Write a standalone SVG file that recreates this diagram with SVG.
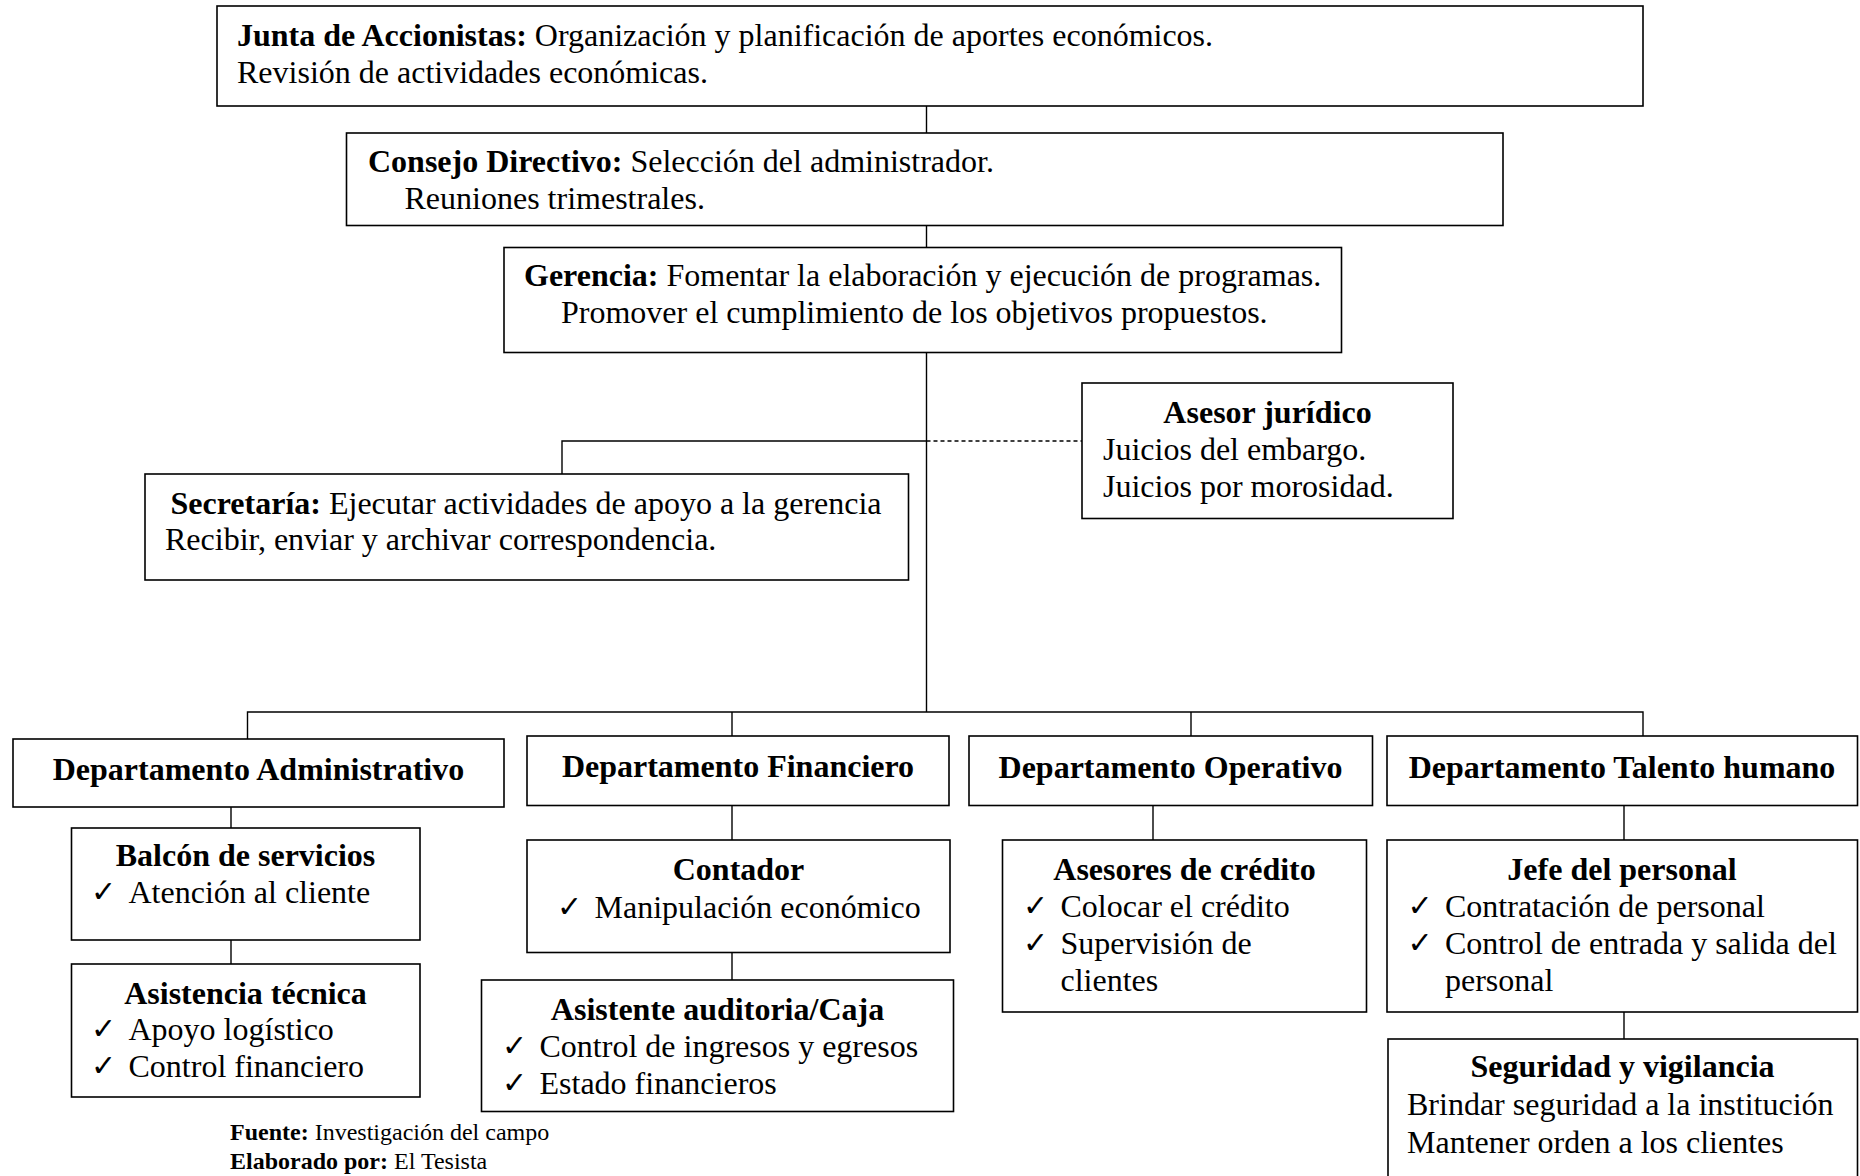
<svg xmlns="http://www.w3.org/2000/svg" width="1860" height="1176" viewBox="0 0 1860 1176">
  <style>
    .box { fill: #ffffff; stroke: #000000; stroke-width: 1.6; }
    .ln { fill: none; stroke: #000000; stroke-width: 1.4; }
    .dash { fill: none; stroke: #000000; stroke-width: 1.4; stroke-dasharray: 4 3; }
    text { font-family: "Liberation Serif", "Times New Roman", serif; font-size: 32px; fill: #000000; }
    .b { font-weight: bold; }
    .c { text-anchor: middle; }
    .ck { font-family: "DejaVu Sans", sans-serif; font-size: 30px; }
    .note { font-size: 24px; }
  </style>
  <rect width="1860" height="1176" fill="#ffffff"/>

  <!-- connectors -->
  <g id="connectors">
    <path class="ln" d="M926.5 106 V133"/>
    <path class="ln" d="M926.5 225.5 V247.5"/>
    <path class="ln" d="M926.5 352.5 V712"/>
    <path class="ln" d="M926.5 441 H562 V474"/>
    <path class="dash" d="M926.5 441 H1082"/>
    <path class="ln" d="M247.5 739 V712 H1643 V736"/>
    <path class="ln" d="M732 712 V736"/>
    <path class="ln" d="M1191 712 V736"/>
    <path class="ln" d="M231 807 V828"/>
    <path class="ln" d="M231 940 V964"/>
    <path class="ln" d="M732 805.5 V840"/>
    <path class="ln" d="M732 952.5 V980"/>
    <path class="ln" d="M1153 805.5 V840"/>
    <path class="ln" d="M1624 805.5 V840"/>
    <path class="ln" d="M1624 1012 V1039"/>
  </g>

  <g id="junta">
    <rect class="box" x="217" y="6" width="1426" height="100"/>
    <text x="237" y="46"><tspan class="b">Junta de Accionistas:</tspan> Organización y planificación de aportes económicos.</text>
    <text x="237" y="83">Revisión de actividades económicas.</text>
  </g>

  <g id="consejo">
    <rect class="box" x="346.5" y="133" width="1156.5" height="92.5"/>
    <text x="368" y="172"><tspan class="b">Consejo Directivo:</tspan> Selección del administrador.</text>
    <text x="404.5" y="209">Reuniones trimestrales.</text>
  </g>

  <g id="gerencia">
    <rect class="box" x="504" y="247.5" width="837.5" height="105"/>
    <text x="524" y="286"><tspan class="b">Gerencia:</tspan> Fomentar la elaboración y ejecución de programas.</text>
    <text x="561" y="323">Promover el cumplimiento de los objetivos propuestos.</text>
  </g>

  <g id="asesor-juridico">
    <rect class="box" x="1082" y="383" width="371" height="135.5"/>
    <text class="b c" x="1267.5" y="422.5">Asesor jurídico</text>
    <text x="1103" y="459.5">Juicios del embargo.</text>
    <text x="1103" y="496.5">Juicios por morosidad.</text>
  </g>

  <g id="secretaria">
    <rect class="box" x="145" y="474" width="763.5" height="106"/>
    <text x="170.5" y="513.5"><tspan class="b">Secretaría:</tspan> Ejecutar actividades de apoyo a la gerencia</text>
    <text x="165" y="550">Recibir, enviar y archivar correspondencia.</text>
  </g>

  <g id="dep-administrativo">
    <rect class="box" x="13" y="739" width="491" height="68"/>
    <text class="b c" x="258.5" y="780">Departamento Administrativo</text>
  </g>

  <g id="dep-financiero">
    <rect class="box" x="527" y="736" width="422" height="69.5"/>
    <text class="b c" x="738" y="777">Departamento Financiero</text>
  </g>

  <g id="dep-operativo">
    <rect class="box" x="969" y="736" width="403.5" height="69.5"/>
    <text class="b c" x="1170.5" y="778">Departamento Operativo</text>
  </g>

  <g id="dep-talento">
    <rect class="box" x="1387" y="736" width="470.5" height="69.5"/>
    <text class="b c" x="1622" y="778">Departamento Talento humano</text>
  </g>

  <g id="balcon">
    <rect class="box" x="71.5" y="828" width="348.5" height="112"/>
    <text class="b c" x="245.5" y="866">Balcón de servicios</text>
    <text class="ck" x="91" y="902">✓</text>
    <text x="128.5" y="903">Atención al cliente</text>
  </g>

  <g id="asistencia-tecnica">
    <rect class="box" x="71.5" y="964" width="348.5" height="133"/>
    <text class="b c" x="245.5" y="1004">Asistencia técnica</text>
    <text class="ck" x="91" y="1039">✓</text>
    <text x="128.5" y="1040">Apoyo logístico</text>
    <text class="ck" x="91" y="1076">✓</text>
    <text x="128.5" y="1077">Control financiero</text>
  </g>

  <g id="contador">
    <rect class="box" x="527" y="840" width="423" height="112.5"/>
    <text class="b c" x="738.5" y="880">Contador</text>
    <text class="ck" x="557" y="917">✓</text>
    <text x="594.5" y="918">Manipulación económico</text>
  </g>

  <g id="asistente-auditoria">
    <rect class="box" x="481.5" y="980" width="472" height="131.5"/>
    <text class="b c" x="717.5" y="1020">Asistente auditoria/Caja</text>
    <text class="ck" x="502" y="1056">✓</text>
    <text x="539.5" y="1057">Control de ingresos y egresos</text>
    <text class="ck" x="502" y="1093">✓</text>
    <text x="539.5" y="1094">Estado financieros</text>
  </g>

  <g id="asesores-credito">
    <rect class="box" x="1002.5" y="840" width="364" height="172"/>
    <text class="b c" x="1184.5" y="880">Asesores de crédito</text>
    <text class="ck" x="1023" y="916">✓</text>
    <text x="1060.5" y="917">Colocar el crédito</text>
    <text class="ck" x="1023" y="953">✓</text>
    <text x="1060.5" y="954">Supervisión de</text>
    <text x="1060.5" y="990.5">clientes</text>
  </g>

  <g id="jefe-personal">
    <rect class="box" x="1387" y="840" width="470.5" height="172"/>
    <text class="b c" x="1622" y="880">Jefe del personal</text>
    <text class="ck" x="1407.5" y="916">✓</text>
    <text x="1445" y="917">Contratación de personal</text>
    <text class="ck" x="1407.5" y="953">✓</text>
    <text x="1445" y="954">Control de entrada y salida del</text>
    <text x="1445" y="990.5">personal</text>
  </g>

  <g id="seguridad">
    <rect class="box" x="1388" y="1039" width="469.5" height="160"/>
    <text class="b c" x="1622.5" y="1077">Seguridad y vigilancia</text>
    <text x="1407" y="1115">Brindar seguridad a la institución</text>
    <text x="1407" y="1153">Mantener orden a los clientes</text>
  </g>

  <g id="nota">
    <text class="note" x="230" y="1140"><tspan class="b">Fuente:</tspan> Investigación del campo</text>
    <text class="note" x="230" y="1169"><tspan class="b">Elaborado por:</tspan> El Tesista</text>
  </g>
</svg>
